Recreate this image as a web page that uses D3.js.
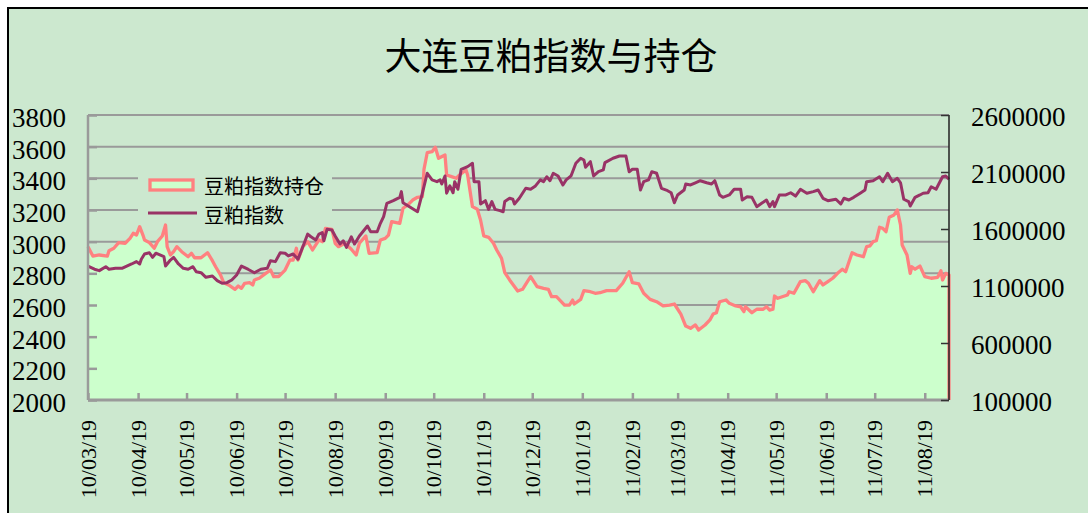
<!DOCTYPE html>
<html><head><meta charset="utf-8">
<script src="https://cdn.jsdelivr.net/npm/d3@7"></script>
<style>body{margin:0;background:#fff;}svg{display:block;}</style>
</head><body>
<svg id="chart" width="1088" height="513"></svg>
<script>
const titleText = "大连豆粕指数与持仓";
const seriesNames = ["豆粕指数持仓", "豆粕指数"];

// 豆粕指数 (left axis)
const indexDates = ["2010-03-19","2010-03-23","2010-03-26","2010-03-30","2010-04-01","2010-04-05","2010-04-09","2010-04-12","2010-04-15","2010-04-18","2010-04-20","2010-04-21","2010-04-23","2010-04-26","2010-04-28","2010-04-30","2010-05-05","2010-05-06","2010-05-09","2010-05-11","2010-05-14","2010-05-17","2010-05-20","2010-05-23","2010-05-25","2010-05-28","2010-05-31","2010-06-04","2010-06-07","2010-06-10","2010-06-13","2010-06-16","2010-06-19","2010-06-22","2010-06-26","2010-06-30","2010-07-04","2010-07-08","2010-07-10","2010-07-13","2010-07-16","2010-07-19","2010-07-21","2010-07-24","2010-07-27","2010-07-30","2010-08-02","2010-08-04","2010-08-07","2010-08-09","2010-08-11","2010-08-12","2010-08-14","2010-08-17","2010-08-19","2010-08-22","2010-08-24","2010-08-26","2010-08-29","2010-08-31","2010-09-03","2010-09-08","2010-09-10","2010-09-14","2010-09-16","2010-09-18","2010-09-20","2010-09-24","2010-09-28","2010-09-29","2010-09-30","2010-10-04","2010-10-09","2010-10-12","2010-10-15","2010-10-18","2010-10-21","2010-10-23","2010-10-24","2010-10-26","2010-10-27","2010-10-29","2010-10-31","2010-11-01","2010-11-03","2010-11-05","2010-11-09","2010-11-12","2010-11-13","2010-11-16","2010-11-17","2010-11-20","2010-11-22","2010-11-24","2010-11-26","2010-11-29","2010-12-01","2010-12-02","2010-12-05","2010-12-07","2010-12-08","2010-12-11","2010-12-15","2010-12-18","2010-12-21","2010-12-24","2010-12-26","2010-12-28","2010-12-30","2011-01-01","2011-01-04","2011-01-07","2011-01-09","2011-01-12","2011-01-15","2011-01-18","2011-01-20","2011-01-21","2011-01-24","2011-01-26","2011-01-29","2011-02-01","2011-02-02","2011-02-07","2011-02-11","2011-02-15","2011-02-17","2011-02-19","2011-02-22","2011-02-24","2011-02-26","2011-03-01","2011-03-03","2011-03-06","2011-03-09","2011-03-12","2011-03-15","2011-03-17","2011-03-19","2011-03-23","2011-03-24","2011-03-27","2011-03-30","2011-04-02","2011-04-06","2011-04-09","2011-04-11","2011-04-14","2011-04-16","2011-04-20","2011-04-23","2011-04-27","2011-04-28","2011-05-01","2011-05-04","2011-05-07","2011-05-10","2011-05-13","2011-05-15","2011-05-17","2011-05-18","2011-05-21","2011-05-25","2011-05-28","2011-05-31","2011-06-03","2011-06-07","2011-06-11","2011-06-14","2011-06-17","2011-06-20","2011-06-25","2011-06-28","2011-06-30","2011-07-03","2011-07-06","2011-07-10","2011-07-13","2011-07-14","2011-07-18","2011-07-22","2011-07-24","2011-07-27","2011-07-30","2011-08-02","2011-08-04","2011-08-06","2011-08-09","2011-08-10","2011-08-13","2011-08-16","2011-08-18","2011-08-21","2011-08-23","2011-08-26","2011-08-30","2011-09-01","2011-09-03"];
const indexValues = [2846,2826,2817,2842,2826,2832,2832,2846,2859,2874,2859,2889,2922,2930,2901,2927,2905,2846,2884,2901,2859,2832,2826,2842,2810,2804,2775,2783,2754,2737,2741,2758,2790,2846,2826,2804,2826,2832,2880,2874,2930,2927,2910,2922,2889,2968,3048,3031,3011,3048,3057,3006,3078,3074,3036,2985,3006,2964,3031,2985,3036,3099,3063,3063,3116,3158,3242,3259,3280,3316,3246,3221,3189,3306,3432,3390,3379,3390,3364,3415,3306,3352,3309,3379,3331,3457,3474,3495,3379,3379,3238,3259,3204,3253,3204,3196,3189,3253,3274,3268,3238,3274,3337,3331,3352,3390,3379,3410,3385,3432,3415,3358,3390,3415,3495,3527,3516,3470,3505,3415,3442,3453,3499,3527,3541,3541,3442,3457,3457,3326,3379,3390,3442,3432,3337,3326,3309,3246,3295,3326,3364,3358,3372,3385,3372,3364,3385,3295,3280,3295,3331,3331,3263,3284,3280,3221,3242,3263,3221,3253,3221,3295,3295,3309,3288,3331,3306,3316,3326,3274,3259,3268,3238,3274,3263,3280,3306,3326,3379,3385,3410,3379,3432,3379,3400,3372,3268,3253,3225,3280,3295,3306,3309,3347,3331,3410,3415,3394];

// 豆粕指数持仓 (right axis)
const oiDates = ["2010-03-19","2010-03-22","2010-03-26","2010-03-31","2010-04-01","2010-04-04","2010-04-07","2010-04-11","2010-04-14","2010-04-16","2010-04-18","2010-04-20","2010-04-22","2010-04-23","2010-04-26","2010-04-29","2010-05-01","2010-05-04","2010-05-06","2010-05-07","2010-05-09","2010-05-11","2010-05-13","2010-05-16","2010-05-20","2010-05-22","2010-05-24","2010-05-28","2010-06-01","2010-06-04","2010-06-06","2010-06-09","2010-06-11","2010-06-14","2010-06-18","2010-06-20","2010-06-22","2010-06-24","2010-06-27","2010-06-29","2010-06-30","2010-07-03","2010-07-07","2010-07-10","2010-07-12","2010-07-15","2010-07-19","2010-07-22","2010-07-24","2010-07-26","2010-07-27","2010-07-30","2010-08-02","2010-08-05","2010-08-09","2010-08-11","2010-08-13","2010-08-17","2010-08-19","2010-08-21","2010-08-25","2010-08-29","2010-09-01","2010-09-03","2010-09-07","2010-09-09","2010-09-14","2010-09-16","2010-09-19","2010-09-21","2010-09-23","2010-09-28","2010-09-30","2010-10-03","2010-10-06","2010-10-09","2010-10-12","2010-10-13","2010-10-15","2010-10-18","2010-10-20","2010-10-22","2010-10-26","2010-10-27","2010-10-30","2010-11-02","2010-11-04","2010-11-08","2010-11-09","2010-11-12","2010-11-15","2010-11-17","2010-11-19","2010-11-22","2010-11-25","2010-11-27","2010-11-30","2010-12-02","2010-12-05","2010-12-10","2010-12-13","2010-12-16","2010-12-18","2010-12-22","2010-12-26","2010-12-29","2010-12-31","2011-01-03","2011-01-08","2011-01-11","2011-01-13","2011-01-14","2011-01-18","2011-01-20","2011-01-24","2011-01-27","2011-01-30","2011-02-03","2011-02-09","2011-02-13","2011-02-17","2011-02-19","2011-02-23","2011-02-26","2011-03-02","2011-03-06","2011-03-10","2011-03-14","2011-03-17","2011-03-21","2011-03-24","2011-03-27","2011-03-30","2011-04-01","2011-04-05","2011-04-08","2011-04-10","2011-04-12","2011-04-14","2011-04-18","2011-04-20","2011-04-24","2011-04-27","2011-04-29","2011-04-30","2011-05-04","2011-05-07","2011-05-11","2011-05-13","2011-05-15","2011-05-17","2011-05-18","2011-05-20","2011-05-26","2011-05-27","2011-05-30","2011-06-03","2011-06-06","2011-06-08","2011-06-11","2011-06-15","2011-06-17","2011-06-20","2011-06-23","2011-06-26","2011-06-29","2011-07-01","2011-07-05","2011-07-08","2011-07-12","2011-07-14","2011-07-16","2011-07-18","2011-07-20","2011-07-22","2011-07-24","2011-07-26","2011-07-28","2011-07-31","2011-08-02","2011-08-04","2011-08-05","2011-08-08","2011-08-10","2011-08-11","2011-08-13","2011-08-16","2011-08-19","2011-08-23","2011-08-27","2011-08-29","2011-08-30","2011-09-01","2011-09-03"];
const oiValues = [1445000,1363000,1372000,1363000,1410000,1431000,1480000,1475000,1518000,1562000,1547000,1620000,1547000,1504000,1480000,1431000,1489000,1539000,1635000,1445000,1372000,1401000,1445000,1401000,1357000,1387000,1348000,1348000,1392000,1322000,1269000,1197000,1129000,1109000,1071000,1100000,1080000,1124000,1129000,1109000,1153000,1168000,1211000,1240000,1182000,1182000,1240000,1328000,1328000,1431000,1328000,1445000,1489000,1416000,1504000,1489000,1606000,1597000,1475000,1445000,1475000,1422000,1372000,1475000,1539000,1387000,1392000,1504000,1518000,1547000,1664000,1650000,1782000,1811000,1854000,1878000,1884000,2124000,2269000,2278000,2317000,2220000,2249000,2074000,2059000,2045000,2074000,2118000,2074000,1796000,1773000,1679000,1539000,1527000,1475000,1416000,1343000,1217000,1153000,1056000,1071000,1138000,1182000,1094000,1080000,1071000,1006000,1006000,933000,933000,977000,942000,983000,1059000,1050000,1036000,1041000,1059000,1059000,1124000,1225000,1129000,1118000,1036000,983000,962000,925000,933000,942000,854000,749000,729000,758000,714000,758000,802000,854000,866000,962000,977000,948000,925000,918000,875000,918000,866000,896000,896000,918000,889000,896000,1012000,992000,1021000,1050000,1036000,1138000,1147000,1124000,1050000,1147000,1109000,1138000,1168000,1211000,1247000,1225000,1392000,1372000,1357000,1445000,1451000,1489000,1497000,1615000,1606000,1576000,1703000,1723000,1767000,1635000,1460000,1372000,1211000,1269000,1247000,1275000,1182000,1168000,1176000,1234000,1153000,1211000,1197000];

const leftTicks = [2000,2200,2400,2600,2800,3000,3200,3400,3600,3800];
const rightTicks = [100000,600000,1100000,1600000,2100000,2600000];
const xTickLabels = ["10/03/19","10/04/19","10/05/19","10/06/19","10/07/19","10/08/19","10/09/19","10/10/19","10/11/19","10/12/19","11/01/19","11/02/19","11/03/19","11/04/19","11/05/19","11/06/19","11/07/19","11/08/19"];

const parse = d3.timeParse("%Y-%m-%d");
const tickParse = d3.timeParse("%y/%m/%d");
const indexData = indexDates.map((d,i)=>({date:parse(d), v:indexValues[i]}));
const oiData = oiDates.map((d,i)=>({date:parse(d), v:oiValues[i]}));
const xTicks = xTickLabels.map(s=>tickParse(s));

const svg = d3.select("#chart");
const L = 88, R = 949, T = 115, B = 400;
const x = d3.scaleTime().domain([parse("2010-03-19"), parse("2011-09-03")]).range([L, R]);
const yL = d3.scaleLinear().domain([2000, 3800]).range([B, T]);
const yR = d3.scaleLinear().domain([100000, 2600000]).range([B, T]);

const BG = "#CCE8CF", GRID = "#9a9a9a";
const numFont = "'Liberation Serif', 'Times New Roman', serif";
const cjkFont = "'Noto Sans CJK SC', 'Noto Sans', sans-serif";

// chart area
svg.append("rect").attr("x",8).attr("y",8).attr("width",1100).attr("height",530)
  .attr("fill",BG).attr("stroke","#000").attr("stroke-width",2);

// title
svg.append("text").attr("x",551).attr("y",54).attr("text-anchor","middle")
  .attr("dominant-baseline","central").attr("font-family",cjkFont)
  .attr("font-size",37).attr("fill","#000").text(titleText);

// gridlines
svg.append("g").selectAll("line").data(leftTicks.filter(v=>v>2000)).join("line")
  .attr("x1",L).attr("x2",R).attr("y1",d=>yL(d)).attr("y2",d=>yL(d))
  .attr("stroke",GRID).attr("stroke-width",2);

// area (open interest)
const area = d3.area().x(d=>x(d.date)).y0(yR(100000)).y1(d=>yR(d.v));
svg.append("path").datum(oiData).attr("d",area).attr("fill","#CCFFCC");
const last = oiData[oiData.length-1];
const oiOutline = oiData.concat([{date:last.date, v:100000}]);
const lineR = d3.line().x(d=>x(d.date)).y(d=>yR(d.v));
svg.append("path").datum(oiOutline).attr("d",lineR).attr("fill","none")
  .attr("stroke","#FF8080").attr("stroke-width",3.3).attr("stroke-linejoin","round");

// index line
const lineL = d3.line().x(d=>x(d.date)).y(d=>yL(d.v));
svg.append("path").datum(indexData).attr("d",lineL).attr("fill","none")
  .attr("stroke","#993366").attr("stroke-width",3).attr("stroke-linejoin","round");

// left axis
const gL = svg.append("g").attr("transform",`translate(${L},0)`)
  .call(d3.axisRight(yL).tickValues(leftTicks).tickSize(9).tickFormat(""));
gL.select(".domain").attr("stroke",GRID).attr("stroke-width",2.5).attr("d",`M0,${T}V${B}`);
gL.selectAll(".tick line").attr("stroke",GRID).attr("stroke-width",2.5);
svg.append("g").selectAll("text").data(leftTicks).join("text")
  .attr("x",66).attr("y",d=>yL(d)+3).attr("text-anchor","end").attr("dominant-baseline","central")
  .attr("font-family",numFont).attr("font-size",27).attr("fill","#000").text(d=>d);

// x axis
const gX = svg.append("g").attr("transform",`translate(0,${B})`)
  .call(d3.axisTop(x).tickValues(xTicks).tickSize(7).tickFormat(""));
gX.select(".domain").attr("stroke",GRID).attr("stroke-width",3).attr("d",`M${L},0H${R}`);
gX.selectAll(".tick line").attr("stroke",GRID).attr("stroke-width",2.5);
svg.append("g").selectAll("text").data(xTicks).join("text")
  .attr("transform",(d)=>`translate(${x(d)},420) rotate(-90)`)
  .attr("text-anchor","end").attr("dominant-baseline","central")
  .attr("font-family",numFont).attr("font-size",22).attr("fill","#000")
  .text((d,i)=>xTickLabels[i]);

// right axis
const gR = svg.append("g").attr("transform",`translate(${R},0)`)
  .call(d3.axisLeft(yR).tickValues(rightTicks).tickSize(8).tickFormat(""));
gR.select(".domain").attr("stroke","#222").attr("stroke-width",1.5).attr("d",`M0,${T}V${B}`);
gR.selectAll(".tick line").attr("stroke","#333").attr("stroke-width",1.5);
svg.append("g").selectAll("text").data(rightTicks).join("text")
  .attr("x",971).attr("y",d=>yR(d)+2).attr("text-anchor","start").attr("dominant-baseline","central")
  .attr("font-family",numFont).attr("font-size",27).attr("fill","#000").text(d=>d);

// legend
const lg = svg.append("g");
lg.append("rect").attr("x",138).attr("y",166).attr("width",194).attr("height",56).attr("fill",BG);
lg.append("rect").attr("x",150).attr("y",180).attr("width",43).attr("height",10)
  .attr("fill","#CCFFCC").attr("stroke","#FF8080").attr("stroke-width",3.3);
lg.append("line").attr("x1",148).attr("x2",197).attr("y1",213).attr("y2",213)
  .attr("stroke","#993366").attr("stroke-width",3);
lg.selectAll("text").data(seriesNames).join("text")
  .attr("x",204).attr("y",(d,i)=>i===0?185:214).attr("dominant-baseline","central")
  .attr("font-family",cjkFont).attr("font-size",20).attr("fill","#000").text(d=>d);
</script>
</body></html>
